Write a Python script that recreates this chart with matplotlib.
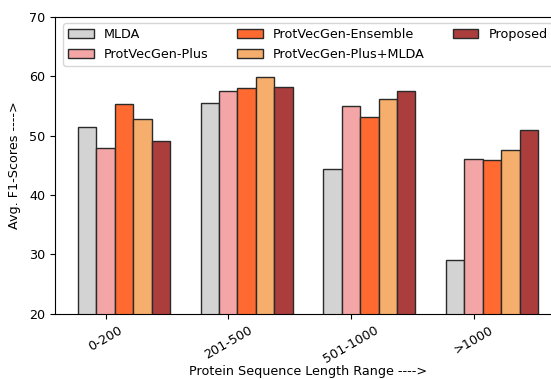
import matplotlib
matplotlib.use("Agg")
import matplotlib.pyplot as plt
import numpy as np

categories = ["0-200", "201-500", "501-1000", ">1000"]
series_names = ["MLDA", "ProtVecGen-Plus", "ProtVecGen-Ensemble", "ProtVecGen-Plus+MLDA", "Proposed"]
mlda = [51.5, 55.5, 44.4, 29.0]
pvg_plus = [47.9, 57.6, 55.0, 46.0]
pvg_ens = [55.4, 58.1, 53.1, 45.9]
pvg_plus_mlda = [52.8, 59.9, 56.2, 47.5]
proposed = [49.1, 58.2, 57.6, 51.0]
yticks = [20, 30, 40, 50, 60, 70]

colors = ["#d3d3d3", "#f4a6a6", "#ff6a30", "#f5ae6b", "#ab3d3d"]
fs = 9.2

fig = plt.figure(figsize=(5.51, 3.79), dpi=100)
ax = fig.add_axes([55/551, 1 - 313.7/379, (561-55)/551, (313.7-16.9)/379])

x = np.arange(len(categories))
w = 0.15
allvals = [mlda, pvg_plus, pvg_ens, pvg_plus_mlda, proposed]
for i, (name, vals, c) in enumerate(zip(series_names, allvals, colors)):
    ax.bar(x + (i - 1) * w, vals, w, color=c, edgecolor="#2a2a2a", linewidth=1.0, label=name)

ax.set_ylim(20, 70)
ax.set_yticks(yticks)
ax.set_xticks(x)
ax.set_xticklabels(categories, rotation=30)
ax.tick_params(labelsize=fs)
ax.set_xlabel("Protein Sequence Length Range ---->", fontsize=fs, labelpad=0)
ax.set_ylabel("Avg. F1-Scores ---->", fontsize=fs, labelpad=6)
ax.legend(loc="upper center", ncol=3, fontsize=fs, columnspacing=2.2)

fig.savefig("out.png", dpi=100)
